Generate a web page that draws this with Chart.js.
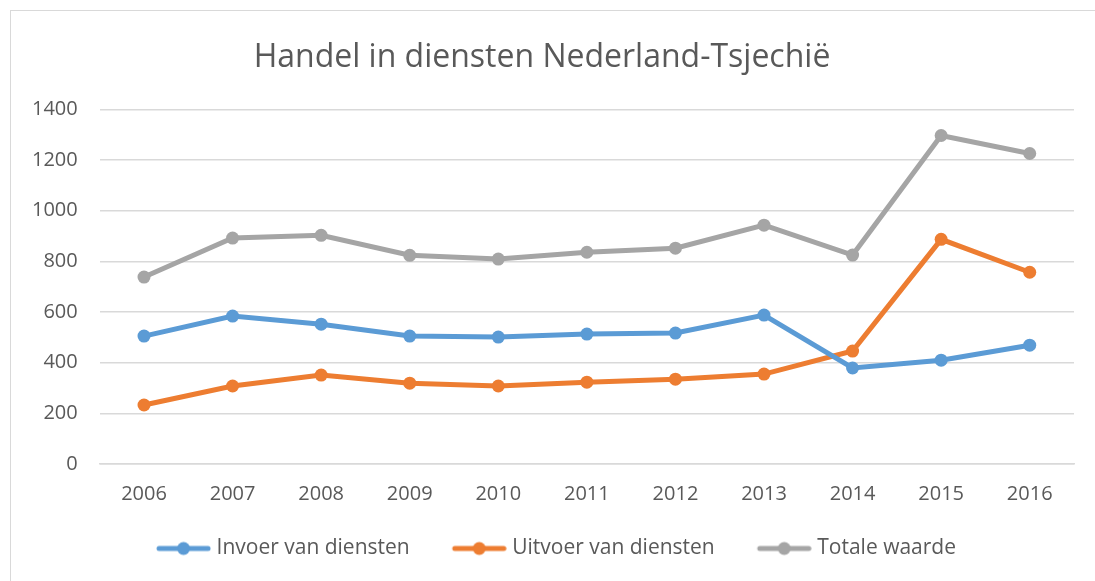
<!DOCTYPE html>
<html>
<head>
<meta charset="utf-8">
<script src="https://cdn.jsdelivr.net/npm/chart.js@4"></script>
<style>
  html, body { margin: 0; padding: 0; background: #ffffff; }
  #wrap { position: relative; width: 1095px; height: 581px; overflow: hidden; }
  #frame { position: absolute; left: 10px; top: 10px; width: 1090px; height: 580px;
           border-left: 1.5px solid #d9d9d9; border-top: 1.5px solid #d9d9d9; }
  #myChart { position: absolute; left: 0; top: 0; }
</style>
</head>
<body>
<div id="wrap">
  <div id="frame"></div>
  <canvas id="myChart" width="1095" height="581"></canvas>
</div>
<script>
const jaren = ['2006', '2007', '2008', '2009', '2010', '2011', '2012', '2013', '2014', '2015', '2016'];
const invoer = [505, 584, 552, 505, 501, 513, 517, 588, 379, 410, 469];
const uitvoer = [233, 308, 351, 319, 308, 323, 335, 355, 446, 887, 757];
const totaal = [738, 892, 903, 824, 809, 836, 852, 943, 825, 1297, 1226];

const tekstKleur = '#595959';
const lettertype = '"Open Sans", Lato, sans-serif';

// legenda-icoontje: lijn met bolletje; links wat lege ruimte als afstand tussen de items
function legendaIcoon(kleur) {
    const c = document.createElement('canvas');
    c.width = 88;
    c.height = 16;
    const g = c.getContext('2d');
    g.strokeStyle = kleur;
    g.lineWidth = 5;
    g.lineCap = 'round';
    g.beginPath();
    g.moveTo(36, 8);
    g.lineTo(85, 8);
    g.stroke();
    g.fillStyle = kleur;
    g.beginPath();
    g.arc(60.5, 8, 6.5, 0, Math.PI * 2);
    g.fill();
    return c;
}

function maakReeks(label, data, kleur) {
    return {
        label,
        data,
        borderColor: kleur,
        backgroundColor: kleur,
        borderWidth: 5,
        pointRadius: 6.5,
        pointHoverRadius: 6.5,
        pointBackgroundColor: kleur,
        pointBorderWidth: 0,
        tension: 0
    };
}

function renderChart() {
    const ctx = document.getElementById('myChart');

    new Chart(ctx, {
        type: 'line',
        data: {
            labels: jaren,
            datasets: [
                maakReeks('Invoer van diensten', invoer, '#5b9bd5'),
                maakReeks('Uitvoer van diensten', uitvoer, '#ed7d31'),
                maakReeks('Totale waarde', totaal, '#a5a5a5')
            ]
        },
        options: {
            responsive: false,
            animation: false,
            layout: {
                padding: { left: 10, right: 21, top: 39, bottom: 12 }
            },
            plugins: {
                title: {
                    display: true,
                    text: 'Handel in diensten Nederland-Tsjechië',
                    color: tekstKleur,
                    font: { family: lettertype, size: 32, weight: 'normal' },
                    padding: { top: 0, bottom: 32 }
                },
                legend: {
                    position: 'bottom',
                    labels: {
                        color: tekstKleur,
                        font: { family: lettertype, size: 21 },
                        usePointStyle: true,
                        pointStyleWidth: 78,
                        boxHeight: 16,
                        padding: 14,
                        generateLabels(chart) {
                            return chart.data.datasets.map((ds, i) => ({
                                text: ds.label,
                                fillStyle: ds.borderColor,
                                strokeStyle: ds.borderColor,
                                fontColor: tekstKleur,
                                lineWidth: 0,
                                pointStyle: legendaIcoon(ds.borderColor),
                                hidden: false,
                                datasetIndex: i
                            }));
                        }
                    }
                },
                tooltip: { enabled: false }
            },
            scales: {
                x: {
                    offset: true,
                    grid: { display: false, drawTicks: false },
                    border: { display: true, color: '#d9d9d9', width: 1.5 },
                    ticks: {
                        color: tekstKleur,
                        font: { family: lettertype, size: 20 },
                        padding: 18,
                        maxRotation: 0
                    }
                },
                y: {
                    min: 0,
                    max: 1400,
                    grid: { color: '#d9d9d9', lineWidth: 1.5, drawTicks: false },
                    border: { display: false },
                    ticks: {
                        stepSize: 200,
                        color: tekstKleur,
                        font: { family: lettertype, size: 20 },
                        padding: 22,
                        callback: v => String(v)
                    }
                }
            }
        }
    });
}

renderChart();
</script>
</body>
</html>
